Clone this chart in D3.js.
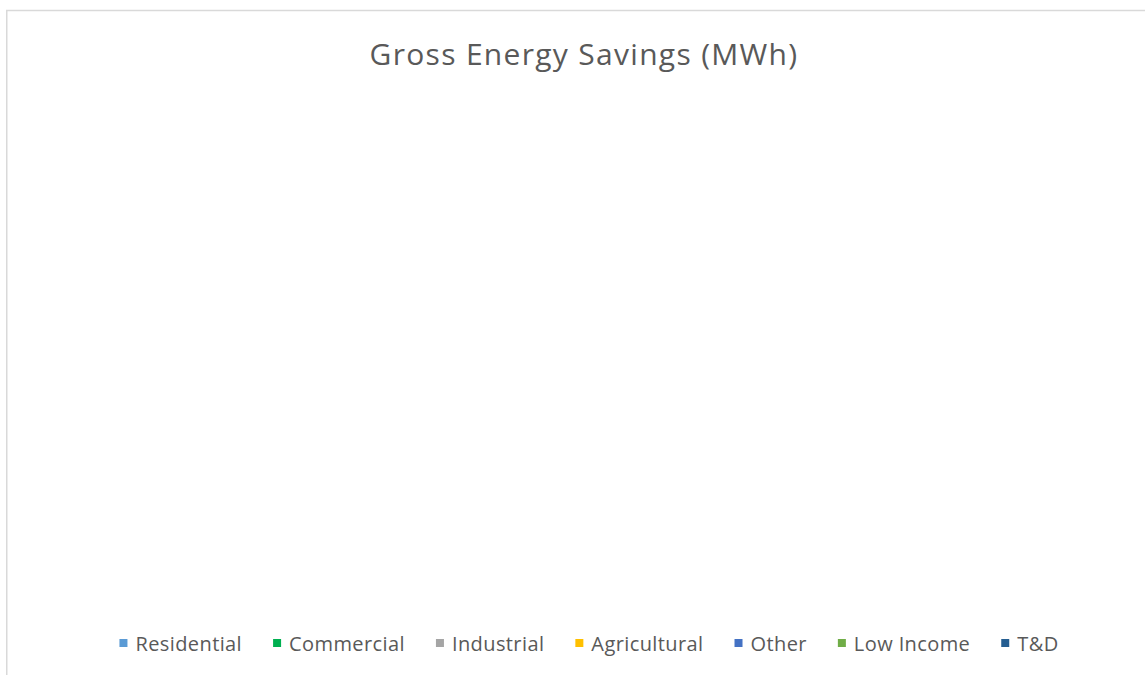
<!DOCTYPE html>
<html>
<head>
<meta charset="utf-8">
<script src="https://cdn.jsdelivr.net/npm/d3@7"></script>
<style>
  html, body { margin: 0; padding: 0; background: #fff; }
  svg { display: block; }
</style>
</head>
<body>
<svg id="chart" width="1145" height="675"></svg>
<script>
// Series for the pie: every category carries zero savings, so no slice gets any angle.
const categories = ["Residential", "Commercial", "Industrial", "Agricultural", "Other", "Low Income", "T&D"];
const values = [0, 0, 0, 0, 0, 0, 0];
const colors = ["#5B9BD5", "#00B050", "#A5A5A5", "#FFC000", "#4472C4", "#70AD47", "#255E91"];
const title = "Gross Energy Savings (MWh)";

const W = 1145, H = 675;
const svg = d3.select("#chart");
const font = "'Open Sans', 'Noto Sans', sans-serif";

// Chart frame (runs past the right and bottom edges of the window)
svg.append("rect")
  .attr("x", 6.75).attr("y", 10.5)
  .attr("width", W + 20).attr("height", H + 20)
  .attr("fill", "#fff")
  .attr("stroke", "#d9d9d9")
  .attr("stroke-width", 1.5);

// Title
svg.append("text")
  .attr("x", 584).attr("y", 64.5)
  .attr("text-anchor", "middle")
  .attr("font-family", font)
  .attr("font-size", 30)
  .attr("letter-spacing", "1.3px")
  .attr("fill", "#595959")
  .text(title);

// Pie
const color = d3.scaleOrdinal().domain(categories).range(colors);
const pie = d3.pie().sort(null).value(d => d.value);
const arc = d3.arc().innerRadius(0).outerRadius(230);
const slices = pie(categories.map((c, i) => ({ name: c, value: values[i] })))
  .filter(d => d.endAngle - d.startAngle > 0);
svg.append("g")
  .attr("transform", "translate(583,360)")
  .selectAll("path")
  .data(slices)
  .join("path")
  .attr("d", arc)
  .attr("fill", d => color(d.data.name))
  .attr("stroke", "#fff");

// Legend, laid out from measured label widths and centred under the plot
const legend = svg.append("g");
const items = legend.selectAll("g")
  .data(categories)
  .join("g");
items.append("rect")
  .attr("width", 8).attr("height", 8)
  .attr("y", -12)
  .attr("fill", d => color(d));
items.append("text")
  .attr("x", 16)
  .attr("y", 0)
  .attr("font-family", font)
  .attr("font-size", 20)
  .attr("letter-spacing", "0.4px")
  .attr("fill", "#595959")
  .text(d => d);

const gap = 31;
let x = 0;
items.each(function () {
  const g = d3.select(this);
  g.attr("transform", `translate(${x},0)`);
  const w = 16 + g.select("text").node().getComputedTextLength();
  x += w + gap;
});
const total = x - gap;
legend.attr("transform", `translate(${589 - total / 2},651)`);
</script>
</body>
</html>
